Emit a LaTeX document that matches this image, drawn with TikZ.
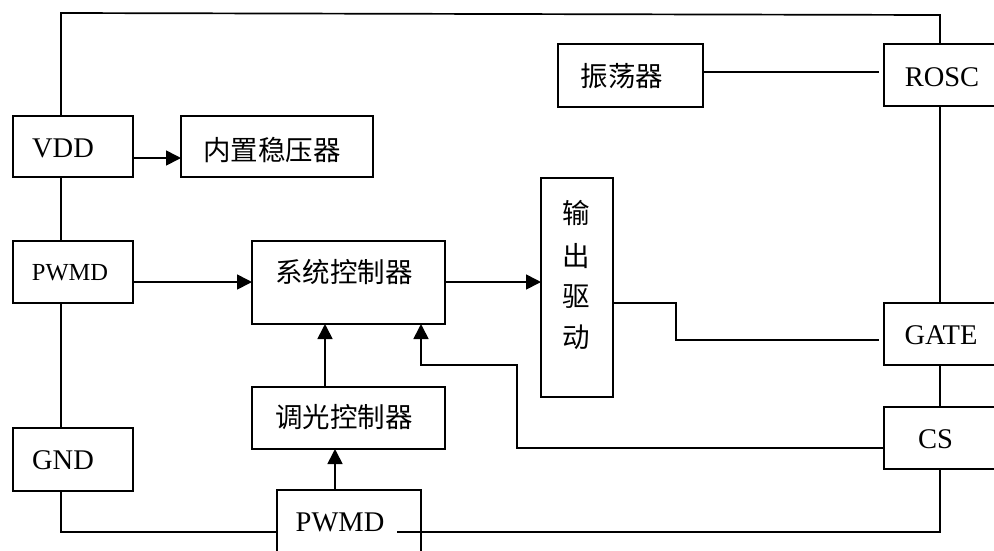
\documentclass[tikz,border=0pt]{standalone}
\usepackage{fontspec}
\setmainfont{Liberation Serif}
\newfontfamily\cjk{Noto Sans CJK SC}
\usetikzlibrary{arrows.meta}
\begin{document}
\begin{tikzpicture}[x=1pt,y=-1pt,
  line width=1.7pt,
  box/.style={draw,line width=1.7pt,inner sep=0pt,outer sep=0pt},
  lat/.style={inner sep=0pt,font=\fontsize{28.5}{31}\selectfont},
  han/.style={inner sep=0pt,font=\cjk\fontsize{27.5}{30}\selectfont},
  arr/.style={-{Triangle[length=15pt,width=15pt]}}]
\useasboundingbox (0,0) rectangle (994,550);
\clip (0,0) rectangle (994,550);
\fill[white] (0,0) rectangle (994,550);
% boxes
\node[box,minimum width=120pt,minimum height=61pt] (vdd) at (73,146.5) {};
\node[box,minimum width=192pt,minimum height=61pt] (reg) at (277,146.5) {};
\node[box,minimum width=145pt,minimum height=63pt] (osc) at (630.5,75.5) {};
\node[box,minimum width=126pt,minimum height=62pt] (rosc) at (947,75) {};
\node[box,minimum width=120pt,minimum height=62pt] (pwmdL) at (73,272) {};
\node[box,minimum width=193pt,minimum height=83pt] (sys) at (348.5,282.5) {};
\node[box,minimum width=193pt,minimum height=62pt] (dim) at (348.5,418) {};
\node[box,minimum width=120pt,minimum height=63pt] (gnd) at (73,459.5) {};
\node[box,minimum width=144pt,minimum height=80pt] (pwmdB) at (349,530) {};
\node[box,minimum width=72pt,minimum height=219pt] (drv) at (577,287.5) {};
\node[box,minimum width=126pt,minimum height=62pt] (gate) at (947,334) {};
\node[box,minimum width=126pt,minimum height=62pt] (cs) at (947,438) {};
% texts
\node[lat] (tvdd) at (63,148) {VDD};
\node[han] (treg) at (272,150) {内置稳压器};
\node[han] (tosc) at (622,76) {振荡器};
\node[lat] (trosc) at (942,77) {ROSC};
\node[lat,font=\fontsize{24.5}{27}\selectfont] (tpwmdL) at (70,272.5) {PWMD};
\node[han] (tsys) at (344,272) {系统控制器};
\node[han] (tdim) at (344,417.5) {调光控制器};
\node[lat] (tgnd) at (63,460) {GND};
\node[lat] (tpwmdB) at (340,522.5) {PWMD};
\node[lat] (tgate) at (941,335) {GATE};
\node[lat] (tcs) at (935.5,439) {CS};
\node[han] (td1) at (576,213) {输};
\node[han] (td2) at (576,256) {出};
\node[han] (td3) at (576,297) {驱};
\node[han] (td4) at (576,337) {动};
% coordinates
\coordinate (tl) at (61,13);
\coordinate (tr) at (940,15);
\coordinate (bl) at (61,532);
\coordinate (br1) at (397,532);
\coordinate (br) at (940,532);
\coordinate (oscend) at (879,72);
\coordinate (d1) at (676,303);
\coordinate (gatein) at (879,340);
\coordinate (f1) at (517,448);
\coordinate (f2) at (421,365);
\coordinate (c1) at (325,0);
\coordinate (c2) at (335,0);
\coordinate (a1) at (0,158);
\coordinate (a2) at (0,282);
% connectors
\draw (vdd.north -| tl) -- (tl) -- (tr) -- (rosc.north -| tr);
\draw (vdd.south -| tl) -- (pwmdL.north -| tl);
\draw (pwmdL.south -| tl) -- (gnd.north -| tl);
\draw (gnd.south -| tl) -- (bl) -- (pwmdB.west |- bl);
\draw (br1) -- (br) -- (cs.south -| br);
\draw (rosc.south -| tr) -- (gate.north -| tr);
\draw (gate.south -| tr) -- (cs.north -| tr);
\draw (osc.east |- oscend) -- (oscend);
\draw (drv.east |- d1) -- (d1) |- (gatein);
\draw[arr] (cs.west |- f1) -- (f1) |- (f2) -- (sys.south -| f2);
\draw[arr] (dim.north -| c1) -- (sys.south -| c1);
\draw[arr] (pwmdB.north -| c2) -- (dim.south -| c2);
\draw[arr] (vdd.east |- a1) -- (reg.west |- a1);
\draw[arr] (pwmdL.east |- a2) -- (sys.west |- a2);
\draw[arr] (sys.east |- a2) -- (drv.west |- a2);
\end{tikzpicture}
\end{document}
